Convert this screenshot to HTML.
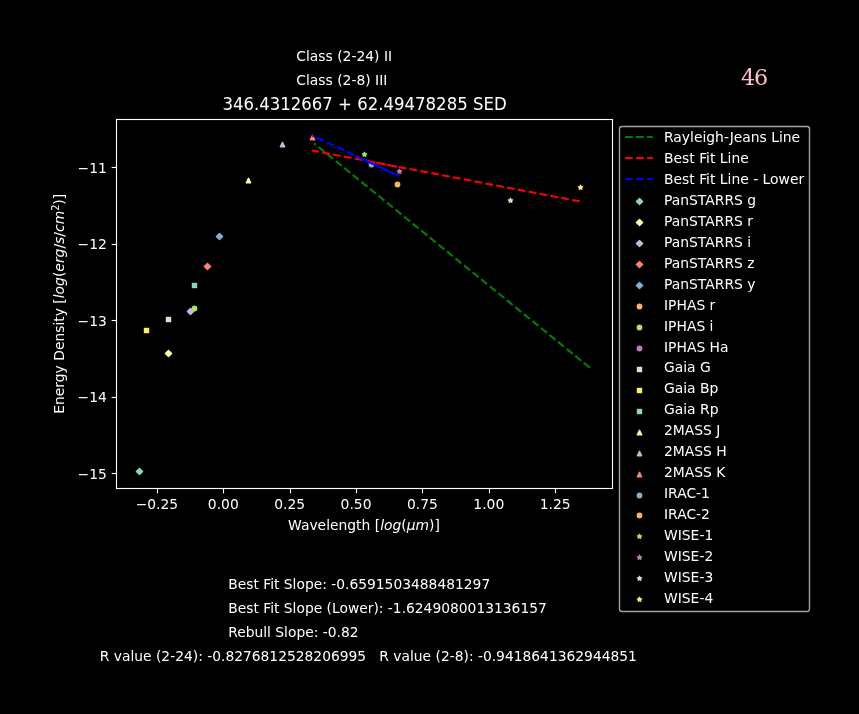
<!DOCTYPE html>
<html lang="en"><head><meta charset="utf-8"><title>346.4312667 + 62.49478285 SED</title>
<style>html,body{margin:0;padding:0;background:#000;overflow:hidden}svg{display:block}text{font-family:"DejaVu Sans","Liberation Sans",sans-serif;font-size:13.89px;fill:#fff}.i{font-style:italic}.t{font-size:16.56px}.b{font-size:13.84px}.n{font-family:"DejaVu Serif","Liberation Serif",serif;font-size:22.22px;fill:#ffc0cb}</style></head><body>
<svg width="859" height="714" viewBox="0 0 859 714">
<rect width="859" height="714" fill="#000"/>
<g>
<polygon points="139.5,468.39 142.61,471.5 139.5,474.61 136.39,471.5" fill="#8dd3c7" stroke="#8dd3c7" stroke-width="1.39" stroke-linejoin="round"/>
<polygon points="168.5,350.39 171.61,353.5 168.5,356.61 165.39,353.5" fill="#feffb3" stroke="#feffb3" stroke-width="1.39" stroke-linejoin="round"/>
<polygon points="190.5,308.39 193.61,311.5 190.5,314.61 187.39,311.5" fill="#bfbbd9" stroke="#bfbbd9" stroke-width="1.39" stroke-linejoin="round"/>
<polygon points="207.5,263.39 210.61,266.5 207.5,269.61 204.39,266.5" fill="#fa8174" stroke="#fa8174" stroke-width="1.39" stroke-linejoin="round"/>
<polygon points="219.5,233.39 222.61,236.5 219.5,239.61 216.39,236.5" fill="#81b1d2" stroke="#81b1d2" stroke-width="1.39" stroke-linejoin="round"/>
<circle cx="194.5" cy="308.5" r="2.2" fill="#b3de69" stroke="#b3de69" stroke-width="1.39"/>
<rect x="165.8" y="316.8" width="5.4" height="5.4" fill="#ccebc4"/>
<rect x="143.8" y="327.8" width="5.4" height="5.4" fill="#ffed6f"/>
<rect x="191.8" y="282.8" width="5.4" height="5.4" fill="#8dd3c7"/>
<polygon points="248.5,178.3 246.3,182.7 250.7,182.7" fill="#feffb3" stroke="#feffb3" stroke-width="1.39" stroke-linejoin="round"/>
<polygon points="282.5,142.3 280.3,146.7 284.7,146.7" fill="#bfbbd9" stroke="#bfbbd9" stroke-width="1.39" stroke-linejoin="round"/>
<polygon points="312.5,135.3 310.3,139.7 314.7,139.7" fill="#fa8174" stroke="#fa8174" stroke-width="1.39" stroke-linejoin="round"/>
<circle cx="371.5" cy="164.5" r="2.2" fill="#81b1d2" stroke="#81b1d2" stroke-width="1.39"/>
<circle cx="397.5" cy="184.5" r="2.2" fill="#fdb462" stroke="#fdb462" stroke-width="1.39"/>
<polygon points="364.5,152.3 364.01,153.82 362.41,153.82 363.7,154.76 363.21,156.28 364.5,155.34 365.79,156.28 365.3,154.76 366.59,153.82 364.99,153.82" fill="#b3de69" stroke="#b3de69" stroke-width="1.39" stroke-linejoin="round"/>
<polygon points="399.5,169.3 399.01,170.82 397.41,170.82 398.7,171.76 398.21,173.28 399.5,172.34 400.79,173.28 400.3,171.76 401.59,170.82 399.99,170.82" fill="#bc82bd" stroke="#bc82bd" stroke-width="1.39" stroke-linejoin="round"/>
<polygon points="510.5,198.3 510.01,199.82 508.41,199.82 509.7,200.76 509.21,202.28 510.5,201.34 511.79,202.28 511.3,200.76 512.59,199.82 510.99,199.82" fill="#ccebc4" stroke="#ccebc4" stroke-width="1.39" stroke-linejoin="round"/>
<polygon points="580.5,185.3 580.01,186.82 578.41,186.82 579.7,187.76 579.21,189.28 580.5,188.34 581.79,189.28 581.3,187.76 582.59,186.82 580.99,186.82" fill="#ffed6f" stroke="#ffed6f" stroke-width="1.39" stroke-linejoin="round"/>
</g>
<line x1="314.1" y1="143.4" x2="589.8" y2="367.7" stroke="#008000" stroke-width="2.08" stroke-dasharray="7.7 3.33" stroke-dashoffset="5.3"/>
<polyline fill="none" stroke="#f00" stroke-width="2.08" stroke-dasharray="7.7 3.33" stroke-dashoffset="0.7" points="312,150.5 371.2,161.74 397.5,166.74 365.35,160.63 399.5,167.12 510.5,188.2 580,201.4"/>
<line x1="312.3" y1="135.57" x2="357.5" y2="156.73" stroke="#00f" stroke-width="2.08" stroke-dasharray="7.7 3.33" stroke-dashoffset="6.04"/>
<line x1="356.9" y1="156.45" x2="398.9" y2="176.11" stroke="#00f" stroke-width="2.08"/>
<rect x="116.5" y="119.5" width="496" height="369" fill="none" stroke="#fff" stroke-width="1.11"/>
<line x1="157.5" y1="488.5" x2="157.5" y2="493.36" stroke="#fff" stroke-width="1.11"/>
<text x="156.93" y="508.7" text-anchor="middle">−0.25</text>
<line x1="223.5" y1="488.5" x2="223.5" y2="493.36" stroke="#fff" stroke-width="1.11"/>
<text x="223.3" y="508.7" text-anchor="middle">0.00</text>
<line x1="290.5" y1="488.5" x2="290.5" y2="493.36" stroke="#fff" stroke-width="1.11"/>
<text x="289.68" y="508.7" text-anchor="middle">0.25</text>
<line x1="356.5" y1="488.5" x2="356.5" y2="493.36" stroke="#fff" stroke-width="1.11"/>
<text x="356.05" y="508.7" text-anchor="middle">0.50</text>
<line x1="422.5" y1="488.5" x2="422.5" y2="493.36" stroke="#fff" stroke-width="1.11"/>
<text x="422.43" y="508.7" text-anchor="middle">0.75</text>
<line x1="489.5" y1="488.5" x2="489.5" y2="493.36" stroke="#fff" stroke-width="1.11"/>
<text x="488.8" y="508.7" text-anchor="middle">1.00</text>
<line x1="555.5" y1="488.5" x2="555.5" y2="493.36" stroke="#fff" stroke-width="1.11"/>
<text x="555.17" y="508.7" text-anchor="middle">1.25</text>
<line x1="111.64" y1="167.5" x2="116.5" y2="167.5" stroke="#fff" stroke-width="1.11"/>
<text x="106.8" y="172.6" text-anchor="end">−11</text>
<line x1="111.64" y1="244.5" x2="116.5" y2="244.5" stroke="#fff" stroke-width="1.11"/>
<text x="106.8" y="249.1" text-anchor="end">−12</text>
<line x1="111.64" y1="320.5" x2="116.5" y2="320.5" stroke="#fff" stroke-width="1.11"/>
<text x="106.8" y="325.6" text-anchor="end">−13</text>
<line x1="111.64" y1="397.5" x2="116.5" y2="397.5" stroke="#fff" stroke-width="1.11"/>
<text x="106.8" y="402.1" text-anchor="end">−14</text>
<line x1="111.64" y1="473.5" x2="116.5" y2="473.5" stroke="#fff" stroke-width="1.11"/>
<text x="106.8" y="478.6" text-anchor="end">−15</text>
<text x="364" y="529.9" text-anchor="middle">Wavelength [<tspan class="i">log</tspan>(<tspan class="i">μm</tspan>)]</text>
<text transform="translate(63.5,303.8) rotate(-90)" text-anchor="middle">Energy Density [<tspan class="i">log</tspan>(<tspan class="i">erg</tspan>/<tspan class="i">s</tspan>/<tspan class="i">cm</tspan><tspan dy="-5" font-size="9.72px">2</tspan><tspan dy="5">)]</tspan></text>
<text class="t" transform="translate(364.5,109.9) scale(1,1.07)" text-anchor="middle">346.4312667 + 62.49478285 SED</text>
<text x="296.3" y="60.6">Class (2-24) II</text>
<text x="296.3" y="84.6">Class (2-8) III</text>
<text class="n" x="741" y="85.2" letter-spacing="-1.1">46</text>
<text class="b" x="228.2" y="589.1">Best Fit Slope: -0.6591503488481297</text>
<text class="b" x="228.2" y="613.1">Best Fit Slope (Lower): -1.6249080013136157</text>
<text class="b" x="228.2" y="637.1">Rebull Slope: -0.82</text>
<text class="b" x="99.8" y="661.1" xml:space="preserve">R value (2-24): -0.8276812528206995   R value (2-8): -0.9418641362944851</text>
<rect x="619.5" y="126.5" width="190" height="485" rx="2.4" ry="2.4" fill="#000" stroke="#a3a3a3" stroke-width="1.39"/>
<line x1="625" y1="137" x2="652.8" y2="137" stroke="#008000" stroke-width="2.08" stroke-dasharray="7.7 3.33"/>
<text x="664" y="141.8">Rayleigh-Jeans Line</text>
<line x1="625" y1="158" x2="652.8" y2="158" stroke="#f00" stroke-width="2.08" stroke-dasharray="7.7 3.33"/>
<text x="664" y="162.8">Best Fit Line</text>
<line x1="625" y1="179" x2="652.8" y2="179" stroke="#00f" stroke-width="2.08" stroke-dasharray="7.7 3.33"/>
<text x="664" y="183.8">Best Fit Line - Lower</text>
<polygon points="639.5,198.39 642.61,201.5 639.5,204.61 636.39,201.5" fill="#8dd3c7" stroke="#8dd3c7" stroke-width="1.39" stroke-linejoin="round"/>
<text x="664" y="204.8">PanSTARRS g</text>
<polygon points="639.5,219.39 642.61,222.5 639.5,225.61 636.39,222.5" fill="#feffb3" stroke="#feffb3" stroke-width="1.39" stroke-linejoin="round"/>
<text x="664" y="225.8">PanSTARRS r</text>
<polygon points="639.5,240.39 642.61,243.5 639.5,246.61 636.39,243.5" fill="#bfbbd9" stroke="#bfbbd9" stroke-width="1.39" stroke-linejoin="round"/>
<text x="664" y="246.8">PanSTARRS i</text>
<polygon points="639.5,261.39 642.61,264.5 639.5,267.61 636.39,264.5" fill="#fa8174" stroke="#fa8174" stroke-width="1.39" stroke-linejoin="round"/>
<text x="664" y="267.8">PanSTARRS z</text>
<polygon points="639.5,282.39 642.61,285.5 639.5,288.61 636.39,285.5" fill="#81b1d2" stroke="#81b1d2" stroke-width="1.39" stroke-linejoin="round"/>
<text x="664" y="288.8">PanSTARRS y</text>
<circle cx="639.5" cy="306.5" r="2.2" fill="#fdb462" stroke="#fdb462" stroke-width="1.39"/>
<text x="664" y="309.8">IPHAS r</text>
<circle cx="639.5" cy="327.5" r="2.2" fill="#b3de69" stroke="#b3de69" stroke-width="1.39"/>
<text x="664" y="330.8">IPHAS i</text>
<circle cx="639.5" cy="348.5" r="2.2" fill="#bc82bd" stroke="#bc82bd" stroke-width="1.39"/>
<text x="664" y="351.8">IPHAS Ha</text>
<rect x="636.8" y="366.8" width="5.4" height="5.4" fill="#ccebc4"/>
<text x="664" y="371.8">Gaia G</text>
<rect x="636.8" y="387.8" width="5.4" height="5.4" fill="#ffed6f"/>
<text x="664" y="392.8">Gaia Bp</text>
<rect x="636.8" y="408.8" width="5.4" height="5.4" fill="#8dd3c7"/>
<text x="664" y="413.8">Gaia Rp</text>
<polygon points="639.5,430.3 637.3,434.7 641.7,434.7" fill="#feffb3" stroke="#feffb3" stroke-width="1.39" stroke-linejoin="round"/>
<text x="664" y="434.8">2MASS J</text>
<polygon points="639.5,451.3 637.3,455.7 641.7,455.7" fill="#bfbbd9" stroke="#bfbbd9" stroke-width="1.39" stroke-linejoin="round"/>
<text x="664" y="455.8">2MASS H</text>
<polygon points="639.5,472.3 637.3,476.7 641.7,476.7" fill="#fa8174" stroke="#fa8174" stroke-width="1.39" stroke-linejoin="round"/>
<text x="664" y="476.8">2MASS K</text>
<circle cx="639.5" cy="495.5" r="2.2" fill="#81b1d2" stroke="#81b1d2" stroke-width="1.39"/>
<text x="664" y="497.8">IRAC-1</text>
<circle cx="639.5" cy="515.5" r="2.2" fill="#fdb462" stroke="#fdb462" stroke-width="1.39"/>
<text x="664" y="518.8">IRAC-2</text>
<polygon points="639.5,534.3 639.01,535.82 637.41,535.82 638.7,536.76 638.21,538.28 639.5,537.34 640.79,538.28 640.3,536.76 641.59,535.82 639.99,535.82" fill="#b3de69" stroke="#b3de69" stroke-width="1.39" stroke-linejoin="round"/>
<text x="664" y="539.8">WISE-1</text>
<polygon points="639.5,555.3 639.01,556.82 637.41,556.82 638.7,557.76 638.21,559.28 639.5,558.34 640.79,559.28 640.3,557.76 641.59,556.82 639.99,556.82" fill="#bc82bd" stroke="#bc82bd" stroke-width="1.39" stroke-linejoin="round"/>
<text x="664" y="560.8">WISE-2</text>
<polygon points="639.5,576.3 639.01,577.82 637.41,577.82 638.7,578.76 638.21,580.28 639.5,579.34 640.79,580.28 640.3,578.76 641.59,577.82 639.99,577.82" fill="#ccebc4" stroke="#ccebc4" stroke-width="1.39" stroke-linejoin="round"/>
<text x="664" y="581.8">WISE-3</text>
<polygon points="639.5,597.3 639.01,598.82 637.41,598.82 638.7,599.76 638.21,601.28 639.5,600.34 640.79,601.28 640.3,599.76 641.59,598.82 639.99,598.82" fill="#ffed6f" stroke="#ffed6f" stroke-width="1.39" stroke-linejoin="round"/>
<text x="664" y="602.8">WISE-4</text>
</svg></body></html>
